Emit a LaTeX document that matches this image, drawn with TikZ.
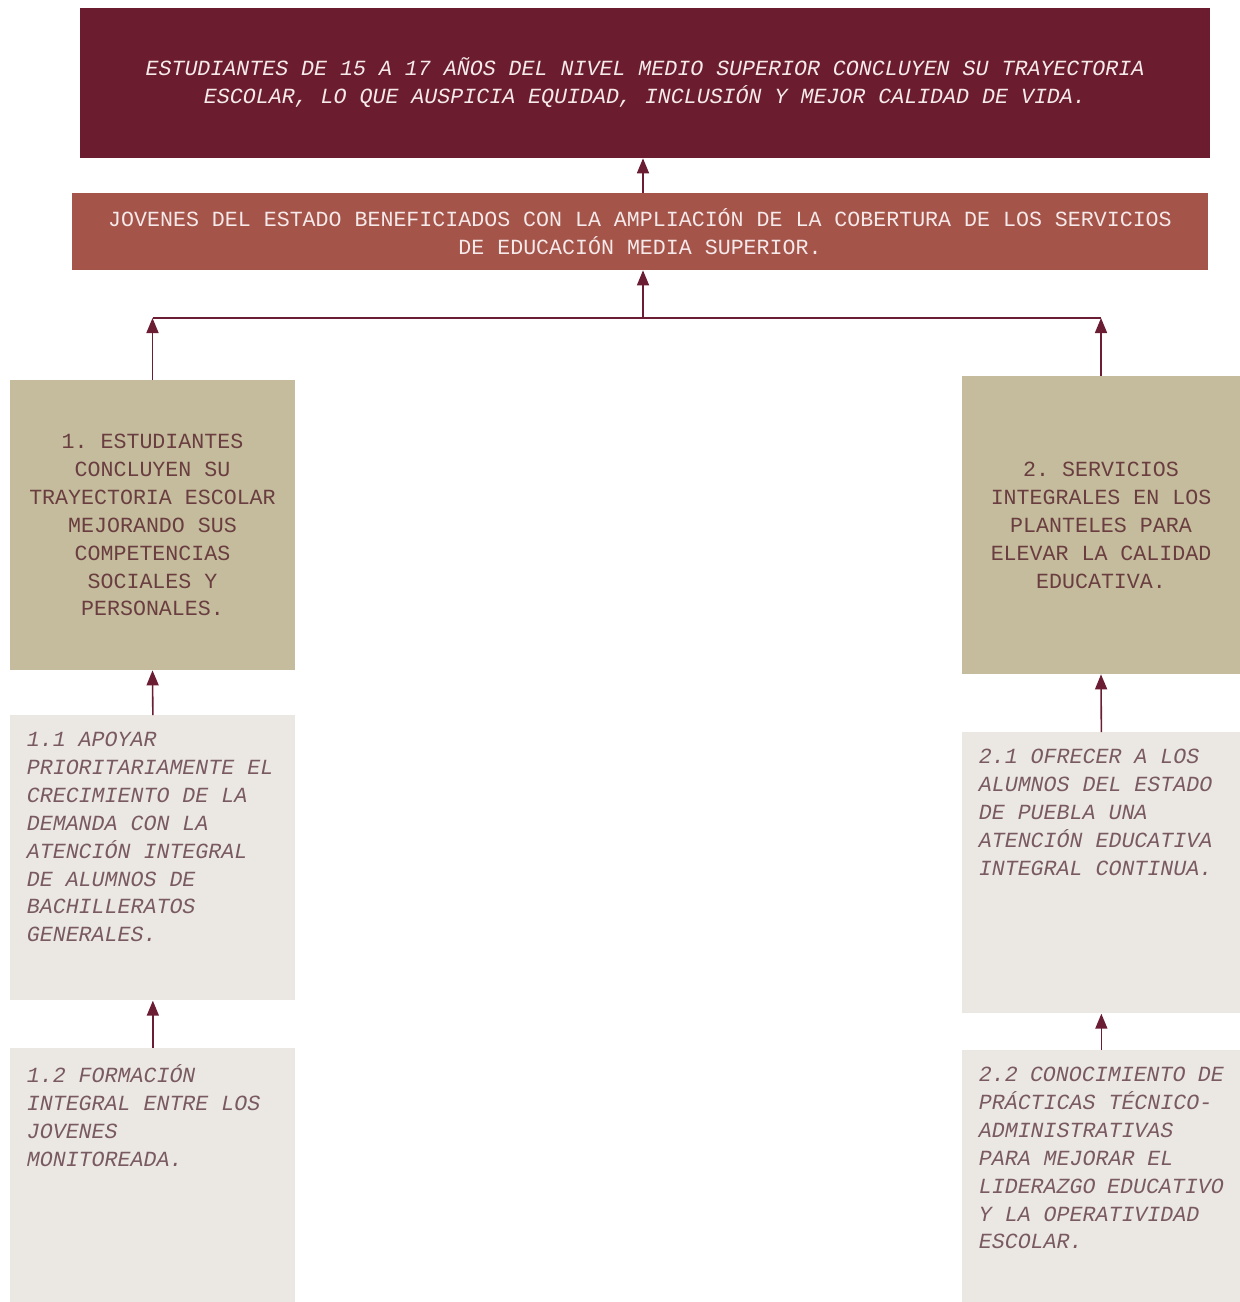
\documentclass[tikz,border=0pt]{standalone}
\usepackage{fontspec}
\usetikzlibrary{arrows.meta}
\newfontfamily\monofont{Liberation Mono}
\newcommand\boxfont{\monofont\frenchspacing\fontsize{12.3pt}{15.9pt}\selectfont}

\definecolor{finfill}{HTML}{6B1D2F}
\definecolor{propfill}{HTML}{A5544A}
\definecolor{compfill}{HTML}{C4BC9C}
\definecolor{actfill}{HTML}{EBE8E3}
\definecolor{lighttext}{HTML}{F5E9E9}
\definecolor{comptext}{HTML}{6A3E40}
\definecolor{acttext}{HTML}{7A5A62}
\definecolor{arrowcol}{HTML}{6B1D34}

\tikzset
{
  finbox/.style={fill=finfill,text=lighttext,align=center,font=\boxfont\itshape,
    minimum width=22.6cm,minimum height=3cm},
  propbox/.style={fill=propfill,text=lighttext,align=center,font=\boxfont,
    minimum width=22.72cm,minimum height=1.54cm},
  compbox/.style={fill=compfill,text=comptext,align=center,font=\boxfont},
  actbox/.style={fill=actfill,text=acttext,anchor=north west,inner sep=0.33cm,
    font=\boxfont\itshape},
  flecha/.style={draw=arrowcol,line width=0.9pt,-{Triangle[width=0.24cm,length=0.3cm]}},
  linea/.style={draw=arrowcol,line width=0.9pt}
}

\begin{document}
\begin{tikzpicture}
\useasboundingbox (0,0) rectangle (24.8,-26.04);

%fin y proposito
\node[finbox]  (fin)  at (12.9,-1.66) {ESTUDIANTES DE 15 A 17 AÑOS DEL NIVEL MEDIO SUPERIOR CONCLUYEN SU TRAYECTORIA\\
  ESCOLAR, LO QUE AUSPICIA EQUIDAD, INCLUSIÓN Y MEJOR CALIDAD DE VIDA.};
\node[propbox] (prop) at (12.8,-4.63) {JOVENES DEL ESTADO BENEFICIADOS CON LA AMPLIACIÓN DE LA COBERTURA DE LOS SERVICIOS\\
  DE EDUCACIÓN MEDIA SUPERIOR.};

%componentes
\node[compbox,minimum width=5.7cm,minimum height=5.8cm]   (comp1) at (3.05,-10.5)
  {1. ESTUDIANTES\\CONCLUYEN SU\\TRAYECTORIA ESCOLAR\\MEJORANDO SUS\\COMPETENCIAS\\SOCIALES Y\\PERSONALES.};
\node[compbox,minimum width=5.56cm,minimum height=5.96cm] (comp2) at (22.02,-10.5)
  {2. SERVICIOS\\INTEGRALES EN LOS\\PLANTELES PARA\\ELEVAR LA CALIDAD\\EDUCATIVA.};

%actividades
\node[actbox] (a11) at (0.2,-14.3)
  {\parbox[t][5.04cm][t]{5.04cm}{1.1 APOYAR\\PRIORITARIAMENTE EL\\CRECIMIENTO DE LA\\DEMANDA CON LA\\ATENCIÓN INTEGRAL\\DE ALUMNOS DE\\BACHILLERATOS\\GENERALES.}};
\node[actbox] (a12) at (0.2,-20.96)
  {\parbox[t][4.42cm][t]{5.04cm}{1.2 FORMACIÓN\\INTEGRAL ENTRE LOS\\JOVENES\\MONITOREADA.}};
\node[actbox] (a21) at (19.24,-14.64)
  {\parbox[t][4.96cm][t]{4.9cm}{2.1 OFRECER A LOS\\ALUMNOS DEL ESTADO\\DE PUEBLA UNA\\ATENCIÓN EDUCATIVA\\INTEGRAL CONTINUA.}};
\node[actbox] (a22) at (19.24,-21.0)
  {\parbox[t][4.38cm][t]{4.9cm}{2.2 CONOCIMIENTO DE\\PRÁCTICAS TÉCNICO-\\ADMINISTRATIVAS\\PARA MEJORAR EL\\LIDERAZGO EDUCATIVO\\Y LA OPERATIVIDAD\\ESCOLAR.}};

%conectores
\coordinate (jL) at (3.05,-6.36);
\coordinate (jM) at (12.86,-6.36);
\coordinate (jR) at (22.02,-6.36);
\draw[linea] (jL) -- (jR);
\draw[flecha] (jM) -- (prop.south -| jM);
\draw[flecha] (prop.north -| jM) -- (fin.south -| jM);
\draw[flecha] (comp1.north) -- (jL);
\draw[flecha] (comp2.north) -- (jR);
\draw[flecha] (a11.north) -- (comp1.south);
\draw[flecha] (a12.north) -- (a11.south);
\draw[flecha] (a21.north) -- (comp2.south);
\draw[flecha] (a22.north) -- (a21.south);
\end{tikzpicture}
\end{document}
